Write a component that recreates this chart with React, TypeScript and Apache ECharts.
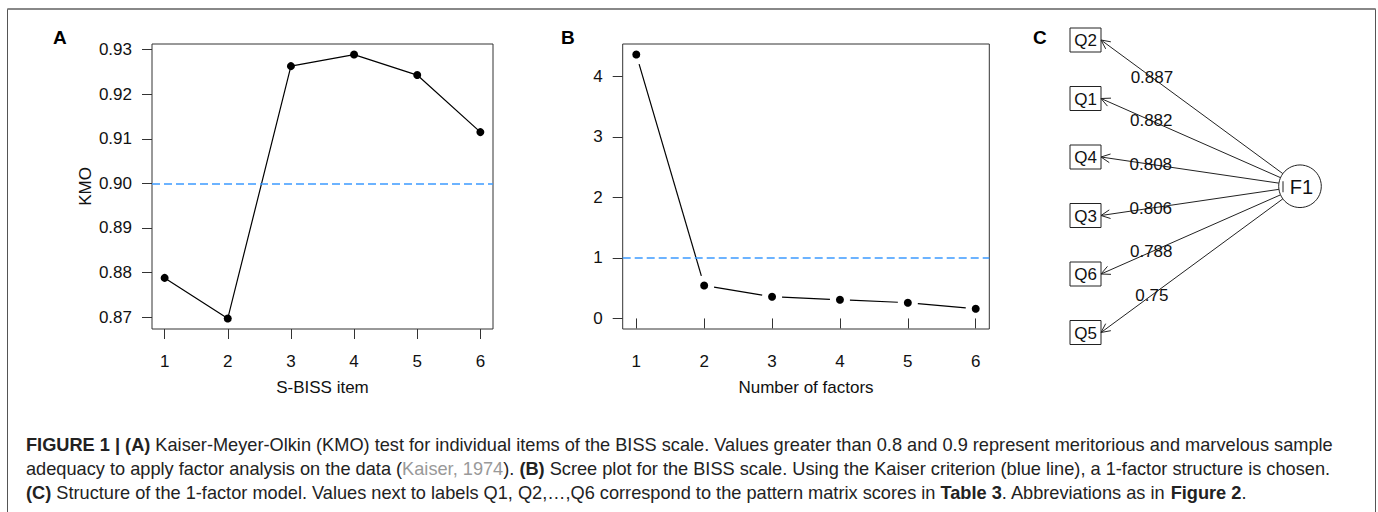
import React, { useEffect, useRef } from "react";
import * as echarts from "echarts";

const FONT = "'Liberation Sans', Arial, Helvetica, sans-serif";

// Panel A: KMO per item
const kmoItems = [1, 2, 3, 4, 5, 6];
const kmoValues = [0.8788, 0.8697, 0.9263, 0.9289, 0.9243, 0.9115];
const kmoTicks = [0.87, 0.88, 0.89, 0.9, 0.91, 0.92, 0.93];
const kmoThreshold = 0.9;

// Panel B: scree plot
const factorNumbers = [1, 2, 3, 4, 5, 6];
const eigenValues = [4.36, 0.545, 0.358, 0.309, 0.26, 0.16];
const eigenTicks = [0, 1, 2, 3, 4];
const kaiserThreshold = 1;

// Panel C: 1-factor model
const itemNames = ["Q2", "Q1", "Q4", "Q3", "Q6", "Q5"];
const loadings = [0.887, 0.882, 0.808, 0.806, 0.788, 0.75];
const factorName = "F1";

const captionLines = [
  "{b|FIGURE 1 | (A)} Kaiser-Meyer-Olkin (KMO) test for individual items of the BISS scale. Values greater than 0.8 and 0.9 represent meritorious and marvelous sample",
  "adequacy to apply factor analysis on the data ({g|Kaiser, 1974}). {b|(B)} Scree plot for the BISS scale. Using the Kaiser criterion (blue line), a 1-factor structure is chosen.",
  "{b|(C)} Structure of the 1-factor model. Values next to labels Q1, Q2,\u2026,Q6 correspond to the pattern matrix scores in {b|Table 3}. Abbreviations as in {b|Figure 2}.",
];

function pad(lo: number, hi: number) {
  const p = (hi - lo) * 0.04;
  return [lo - p, hi + p];
}

const BLUE = "#3d9bff";
const INK = "#111";
const CAP = 18.2;

export default function App() {
  const ref = useRef<HTMLDivElement>(null);
  useEffect(() => {
    document.body.style.margin = "0";
    const chart = echarts.init(ref.current!, null, { renderer: "svg" });

    const [axMin, axMax] = pad(Math.min(...kmoItems), Math.max(...kmoItems));
    const [ayMin, ayMax] = pad(Math.min(...kmoValues), Math.max(...kmoValues));
    const [bxMin, bxMax] = pad(Math.min(...factorNumbers), Math.max(...factorNumbers));
    const [byMin, byMax] = pad(0, Math.max(...eigenValues));
    const fY = (itemNames.length - 1) / 2;

    const xAxisCommon = (gridIndex: number, min: number, max: number, ticks: number[], name: string) => ({
      type: "value",
      gridIndex,
      min,
      max,
      axisLine: { show: false },
      splitLine: { show: false },
      axisTick: { show: true, length: 10, customValues: ticks, lineStyle: { color: "#333", width: 1 } },
      axisLabel: { customValues: ticks, margin: 24, fontSize: 17, color: INK, fontFamily: FONT },
      name,
      nameLocation: "middle",
      nameGap: 50,
      nameTextStyle: { fontSize: 17, color: INK, fontFamily: FONT },
    });
    const yAxisCommon = (gridIndex: number, min: number, max: number, ticks: number[], fmt: (v: number) => string, name: string) => ({
      type: "value",
      gridIndex,
      min,
      max,
      axisLine: { show: false },
      splitLine: { show: false },
      axisTick: { show: true, length: 10, customValues: ticks, lineStyle: { color: "#333", width: 1 } },
      axisLabel: { customValues: ticks, margin: 20, fontSize: 17, color: INK, fontFamily: FONT, formatter: fmt },
      name,
      nameLocation: "middle",
      nameGap: 58,
      nameTextStyle: { fontSize: 17, color: INK, fontFamily: FONT },
    });

    const option: any = {
      animation: false,
      textStyle: { fontFamily: FONT },
      grid: [
        { left: 152, top: 44, width: 341, height: 285, show: true, borderColor: "#333", borderWidth: 1 },
        { left: 622.7, top: 44, width: 366.6, height: 285, show: true, borderColor: "#333", borderWidth: 1 },
        { left: 1085.5, top: 40, width: 214.5, height: 292.5, show: false },
      ],
      xAxis: [
        xAxisCommon(0, axMin, axMax, kmoItems, "S-BISS item"),
        xAxisCommon(1, bxMin, bxMax, factorNumbers, "Number of factors"),
        { type: "value", gridIndex: 2, min: 0, max: 1, show: false },
      ],
      yAxis: [
        yAxisCommon(0, ayMin, ayMax, kmoTicks, (v: number) => v.toFixed(2), "KMO"),
        yAxisCommon(1, byMin, byMax, eigenTicks, (v: number) => String(v), ""),
        { type: "value", gridIndex: 2, min: 0, max: itemNames.length - 1, inverse: true, show: false },
      ],
      graphic: [
        { type: "rect", shape: { x: 7.5, y: 9, width: 1368, height: 620 }, style: { fill: "none", stroke: "#555", lineWidth: 1 }, silent: true },
        { type: "line", shape: { x1: 7.5, y1: 9, x2: 1375.5, y2: 9 }, style: { stroke: "#888", lineWidth: 2 }, silent: true },
        { type: "text", x: 53, y: 37, style: { text: "A", fontSize: 19, fontWeight: "bold", fill: "#000", fontFamily: FONT, align: "left", verticalAlign: "middle" } },
        { type: "text", x: 561, y: 37, style: { text: "B", fontSize: 19, fontWeight: "bold", fill: "#000", fontFamily: FONT, align: "left", verticalAlign: "middle" } },
        { type: "text", x: 1033, y: 37, style: { text: "C", fontSize: 19, fontWeight: "bold", fill: "#000", fontFamily: FONT, align: "left", verticalAlign: "middle" } },
        ...captionLines.map((t, i) => ({
          type: "text",
          x: 26,
          y: 445 + i * 24,
          style: {
            text: t,
            fontSize: CAP,
            fontFamily: FONT,
            fill: "#222",
            align: "left",
            verticalAlign: "middle",
            rich: {
              b: { fontSize: CAP, fontFamily: FONT, fontWeight: "bold", fill: "#222", color: "#222" },
              g: { fontSize: CAP, fontFamily: FONT, fill: "#999", color: "#999" },
            },
          },
        })),
      ],
      series: [
        {
          type: "line",
          xAxisIndex: 0,
          yAxisIndex: 0,
          data: kmoItems.map((x, i) => [x, kmoValues[i]]),
          symbol: "circle",
          symbolSize: 8,
          itemStyle: { color: "#000", opacity: 1 },
          lineStyle: { color: "#000", width: 1.2 },
          markLine: {
            silent: true,
            symbol: "none",
            label: { show: false },
            lineStyle: { color: BLUE, type: [8, 4], width: 1.5 },
            data: [{ yAxis: kmoThreshold }],
          },
        },
        {
          type: "custom",
          xAxisIndex: 1,
          yAxisIndex: 1,
          encode: { x: [0, 2], y: [1, 3] },
          data: factorNumbers.slice(0, -1).map((x, i) => [x, eigenValues[i], factorNumbers[i + 1], eigenValues[i + 1]]),
          renderItem: (params: any, api: any) => {
            const p0 = api.coord([api.value(0), api.value(1)]);
            const p1 = api.coord([api.value(2), api.value(3)]);
            const dx = p1[0] - p0[0];
            const dy = p1[1] - p0[1];
            const L = Math.hypot(dx, dy);
            const g = 10;
            const ux = dx / L;
            const uy = dy / L;
            return {
              type: "line",
              shape: { x1: p0[0] + ux * g, y1: p0[1] + uy * g, x2: p1[0] - ux * g, y2: p1[1] - uy * g },
              style: { stroke: "#000", lineWidth: 1.2 },
            };
          },
        },
        {
          type: "scatter",
          xAxisIndex: 1,
          yAxisIndex: 1,
          data: factorNumbers.map((x, i) => [x, eigenValues[i]]),
          symbol: "circle",
          symbolSize: 8,
          itemStyle: { color: "#000", opacity: 1 },
          markLine: {
            silent: true,
            symbol: "none",
            label: { show: false },
            lineStyle: { color: BLUE, type: [8, 4], width: 1.5 },
            data: [{ yAxis: kaiserThreshold }],
          },
        },
        {
          type: "custom",
          xAxisIndex: 2,
          yAxisIndex: 2,
          data: itemNames.map((n, i) => [0, i, loadings[i]]),
          renderItem: (params: any, api: any) => {
            const c = api.coord([api.value(0), api.value(1)]);
            const f = api.coord([1, fY]);
            const w = 31;
            const h = 24;
            const R = 21.3;
            const ex = c[0] + w / 2;
            const ey = c[1];
            const dx = ex - f[0];
            const dy = ey - f[1];
            const L = Math.hypot(dx, dy);
            const ux = dx / L;
            const uy = dy / L;
            const sx = f[0] + ux * R;
            const sy = f[1] + uy * R;
            const bx = -ux;
            const by = -uy;
            const a = 0.45;
            const len = 10;
            const w1 = [ex + len * (bx * Math.cos(a) - by * Math.sin(a)), ey + len * (bx * Math.sin(a) + by * Math.cos(a))];
            const w2 = [ex + len * (bx * Math.cos(-a) - by * Math.sin(-a)), ey + len * (bx * Math.sin(-a) + by * Math.cos(-a))];
            const lx = ex + (sx - ex) * 0.28;
            const ly = ey + (sy - ey) * 0.28;
            return {
              type: "group",
              children: [
                { type: "rect", shape: { x: c[0] - w / 2, y: c[1] - h / 2, width: w, height: h }, style: { fill: "#fff", stroke: "#222", lineWidth: 1 } },
                { type: "text", style: { text: itemNames[params.dataIndex], x: c[0], y: c[1] + 0.5, align: "center", verticalAlign: "middle", fontSize: 17, fontFamily: FONT, fill: INK } },
                { type: "line", shape: { x1: sx, y1: sy, x2: ex, y2: ey }, style: { stroke: "#222", lineWidth: 1 } },
                { type: "polyline", shape: { points: [w1, [ex, ey], w2] }, style: { stroke: "#222", fill: null, lineWidth: 1 } },
                { type: "text", style: { text: String(api.value(2)), x: lx, y: ly, align: "center", verticalAlign: "middle", fontSize: 17, fontFamily: FONT, fill: INK } },
              ],
            };
          },
        },
        {
          type: "custom",
          xAxisIndex: 2,
          yAxisIndex: 2,
          data: [[1, fY]],
          renderItem: (params: any, api: any) => {
            const f = api.coord([api.value(0), api.value(1)]);
            return {
              type: "group",
              children: [
                { type: "circle", shape: { cx: f[0], cy: f[1], r: 21.3 }, style: { fill: "#fff", stroke: "#222", lineWidth: 1 } },
                { type: "line", shape: { x1: f[0] - 17, y1: f[1] - 5, x2: f[0] - 17, y2: f[1] + 6 }, style: { stroke: "#222", lineWidth: 1 } },
                { type: "text", style: { text: factorName, x: f[0] + 1.5, y: f[1] + 0.5, align: "center", verticalAlign: "middle", fontSize: 20, fontFamily: FONT, fill: INK } },
              ],
            };
          },
        },
      ],
    };
    chart.setOption(option);
    return () => chart.dispose();
  }, []);
  return <div ref={ref} style={{ width: 1378, height: 512 }} />;
}
